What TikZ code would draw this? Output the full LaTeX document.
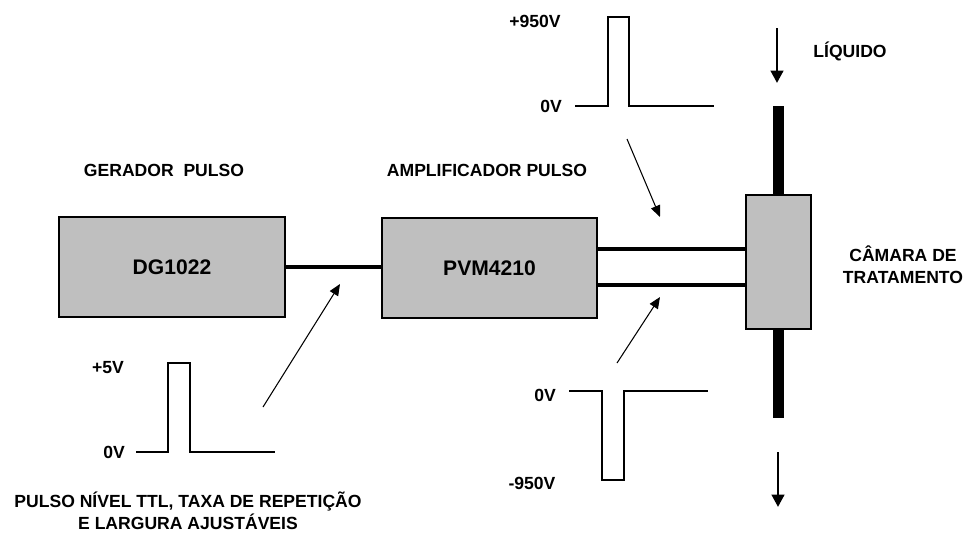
\documentclass[tikz,border=0pt]{standalone}
\usepackage{fontspec}
\setmainfont{Liberation Sans}
\usepackage{tikz}
\usetikzlibrary{arrows.meta, positioning}

\begin{document}
\begin{tikzpicture}[
  x=0.02cm, y=-0.02cm,
  bloco/.style={draw, line width=0.8pt, fill=gray!50, inner sep=0pt,
                font=\fontsize{12}{14}\selectfont\bfseries},
  rotulo/.style={inner sep=0pt, align=center, font=\fontsize{10}{12.5}\selectfont\bfseries},
  cabo/.style={line width=2.3pt},
  tubo/.style={line width=5.7pt},
  sinal/.style={line width=0.9pt},
  seta/.style={-{Triangle[length=6.5pt, width=5.5pt]}, line width=0.6pt},
  fluxo/.style={-{Triangle[length=7pt, width=7pt]}, line width=1.7pt},
]
\useasboundingbox (0,0) rectangle (971,532);

% blocos do sistema
\node[bloco, minimum width=4.52cm, minimum height=2cm] (gerador) at (172,267) {DG1022};
\node[bloco, minimum width=4.3cm, minimum height=2cm] (amplificador) at (489.5,268) {PVM4210};
\node[bloco, minimum width=1.3cm, minimum height=2.68cm] (camara) at (778.5,262) {};

\node[rotulo] (tgerador) at (164,170) {GERADOR\ \ PULSO};
\node[rotulo] (tamplificador) at (487,170) {AMPLIFICADOR PULSO};
\node[rotulo] (tcamara) at (903,265) {CÂMARA DE\\TRATAMENTO};
\node[rotulo] (tliquido) at (850,51) {LÍQUIDO};

% ligacoes
\draw[cabo] (gerador.east) -- (gerador.east -| amplificador.west);
\draw[cabo] (amplificador.east |- 0,249) -- (camara.west |- 0,249);
\draw[cabo] (amplificador.east |- 0,285) -- (camara.west |- 0,285);

% tubo do liquido
\coordinate (tubotopo) at (778.5,106);
\coordinate (tubobase) at (778.5,418);
\draw[tubo] (camara.north) -- (tubotopo);
\draw[tubo] (camara.south) -- (tubobase);

\coordinate (entrada0) at (777,28);
\coordinate (entrada1) at (777,83);
\coordinate (saida0) at (778,452);
\coordinate (saida1) at (778,507);
\draw[fluxo] (entrada0) -- (entrada1);
\draw[fluxo] (saida0) -- (saida1);

% pulso TTL
\draw[sinal] (136,452) -- (168,452) -- (168,363) -- (190,363) -- (190,452) -- (275,452);
\node[rotulo] (ttl5) at (108,368) {+5V};
\node[rotulo] (ttl0) at (114,452) {0V};
\node[rotulo] (tttl) at (188,511) {PULSO NÍVEL TTL, TAXA DE REPETIÇÃO\\E LARGURA AJUSTÁVEIS};

% pulso positivo
\draw[sinal] (575,106) -- (608,106) -- (608,17) -- (629,17) -- (629,106) -- (714,106);
\node[rotulo] (pos950) at (535,21) {+950V};
\node[rotulo] (pos0) at (551,106) {0V};

% pulso negativo
\draw[sinal] (569,391) -- (602,391) -- (602,480) -- (624,480) -- (624,391) -- (708,391);
\node[rotulo] (neg0) at (545,395) {0V};
\node[rotulo] (neg950) at (532,483) {-950V};

% setas indicando o sinal em cada cabo
\coordinate (ttlde) at (263,407);
\coordinate (ttlpara) at (340,284);
\coordinate (posde) at (627,139);
\coordinate (pospara) at (660,217);
\coordinate (negde) at (617,363);
\coordinate (negpara) at (660,297);
\draw[seta] (ttlde) -- (ttlpara);
\draw[seta] (posde) -- (pospara);
\draw[seta] (negde) -- (negpara);

\end{tikzpicture}
\end{document}
